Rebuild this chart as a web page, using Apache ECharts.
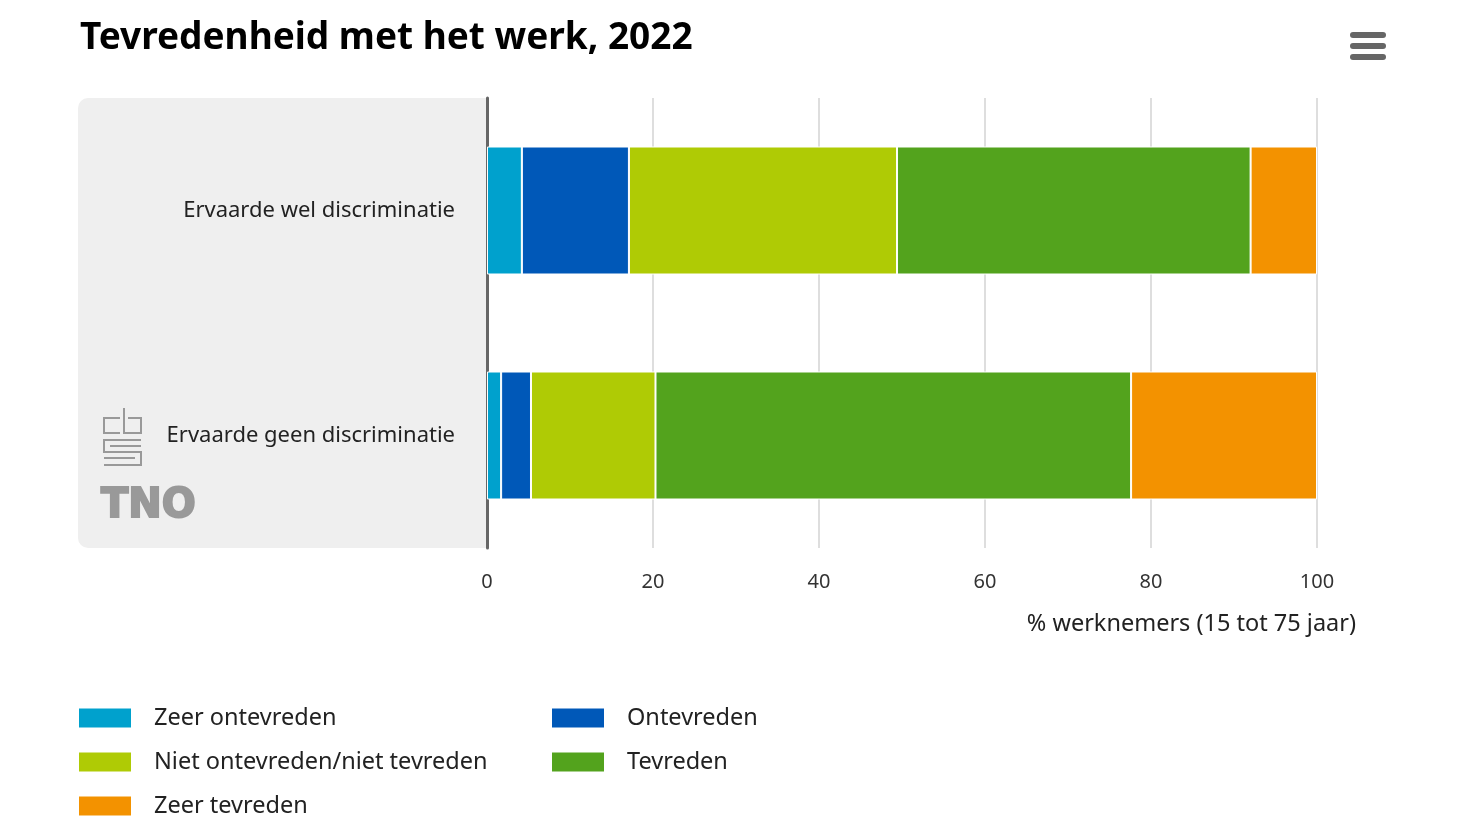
<!DOCTYPE html>
<html><head><meta charset="utf-8">
<script src="https://cdn.jsdelivr.net/npm/echarts@6/dist/echarts.min.js"></script>
<style>html,body{margin:0;padding:0;background:#fff}#c{width:1484px;height:835px}</style>
</head><body><div id="c"></div>
<script>
var categories = ['Ervaarde wel discriminatie', 'Ervaarde geen discriminatie'];
var seriesNames = ['Zeer ontevreden', 'Ontevreden', 'Niet ontevreden/niet tevreden', 'Tevreden', 'Zeer tevreden'];
var zeerOntevreden = [4.2, 1.7];
var ontevreden = [12.9, 3.6];
var neutraal = [32.3, 15.0];
var tevreden = [42.6, 57.3];
var zeerTevreden = [8.0, 22.4];
var xTicks = [0, 20, 40, 60, 80, 100];
var colors = ['#00a1cd', '#0058b8', '#afcb05', '#53a31d', '#f39200'];
var values = [zeerOntevreden, ontevreden, neutraal, tevreden, zeerTevreden];
var FONT = 'Noto Sans';

var chart = echarts.init(document.getElementById('c'), null, {renderer: 'canvas'});
var series = seriesNames.map(function (n, i) {
  return {
    name: n, type: 'bar', stack: 'total', data: values[i], barWidth: 128,
    itemStyle: {color: colors[i], borderColor: '#ffffff', borderWidth: 1},
    emphasis: {disabled: true}
  };
});
var legendText = {fontSize: 23.5, color: '#222', padding: [0, 0, 0, 17], fontFamily: FONT};
chart.setOption({
  animation: false,
  textStyle: {fontFamily: FONT},
  title: {
    text: 'Tevredenheid met het werk, 2022', left: 75, top: 15,
    textStyle: {fontFamily: FONT, fontSize: 37, fontWeight: 'bold', color: '#000'}
  },
  grid: {left: 487, right: 167, top: 98, bottom: 287, containLabel: false},
  xAxis: {
    type: 'value', min: 0, max: 100, interval: 20,
    axisLine: {show: false}, axisTick: {show: false},
    splitLine: {lineStyle: {color: '#dedede', width: 2}},
    axisLabel: {color: '#333', fontSize: 20, margin: 24, fontFamily: FONT,
      formatter: function (v) { return xTicks.indexOf(v) >= 0 ? String(v) : ''; }}
  },
  yAxis: {
    type: 'category', data: categories, inverse: true,
    axisLine: {lineStyle: {color: '#666', width: 3}},
    axisTick: {show: false},
    axisLabel: {color: '#222', fontSize: 22, margin: 32, fontFamily: FONT, padding: [10, 0, 0, 0]}
  },
  legend: [
    {left: 77, top: 706, padding: 0, orient: 'vertical', itemWidth: 54, itemHeight: 21, itemGap: 20,
     icon: 'rect', selectedMode: false,
     data: [seriesNames[0], seriesNames[2], seriesNames[4]], textStyle: legendText},
    {left: 550, top: 706, padding: 0, orient: 'vertical', itemWidth: 54, itemHeight: 21, itemGap: 20,
     icon: 'rect', selectedMode: false,
     data: [seriesNames[1], seriesNames[3]], textStyle: legendText}
  ],
  graphic: [
    {type: 'rect', z: -10, silent: true, shape: {x: 78, y: 98, width: 409, height: 450, r: [10, 0, 0, 10]},
     style: {fill: '#efefef'}},
    {type: 'text', right: 128, top: 612, silent: true,
     style: {text: '% werknemers (15 tot 75 jaar)', fontSize: 23.5, fill: '#222', fontFamily: FONT}},
    {type: 'group', silent: true, children: [
      {type: 'polyline', shape: {points: [[120, 433], [104, 433], [104, 418], [120, 418]]}, style: {stroke: '#999', lineWidth: 2, fill: null}},
      {type: 'polyline', shape: {points: [[124, 408], [124, 433], [141, 433], [141, 418], [128, 418]]}, style: {stroke: '#999', lineWidth: 2, fill: null}},
      {type: 'polyline', shape: {points: [[141, 440], [104, 440], [104, 452], [141, 452], [141, 465], [104, 465]]}, style: {stroke: '#999', lineWidth: 2, fill: null}},
      {type: 'polyline', shape: {points: [[110, 446], [141, 446]]}, style: {stroke: '#999', lineWidth: 2}},
      {type: 'polyline', shape: {points: [[104, 458], [135, 458]]}, style: {stroke: '#999', lineWidth: 2}}
    ]},
    {type: 'text', left: 100, top: 486, silent: true,
     style: {text: 'TNO', fontSize: 40, fontWeight: 900, fill: '#999', stroke: '#999', lineWidth: 2, fontFamily: 'DejaVu Sans'}},
    {type: 'rect', shape: {x: 1350, y: 32, width: 36, height: 6, r: 3}, style: {fill: '#666'}},
    {type: 'rect', shape: {x: 1350, y: 43, width: 36, height: 6, r: 3}, style: {fill: '#666'}},
    {type: 'rect', shape: {x: 1350, y: 54, width: 36, height: 6, r: 3}, style: {fill: '#666'}}
  ],
  series: series
});
</script></body></html>
